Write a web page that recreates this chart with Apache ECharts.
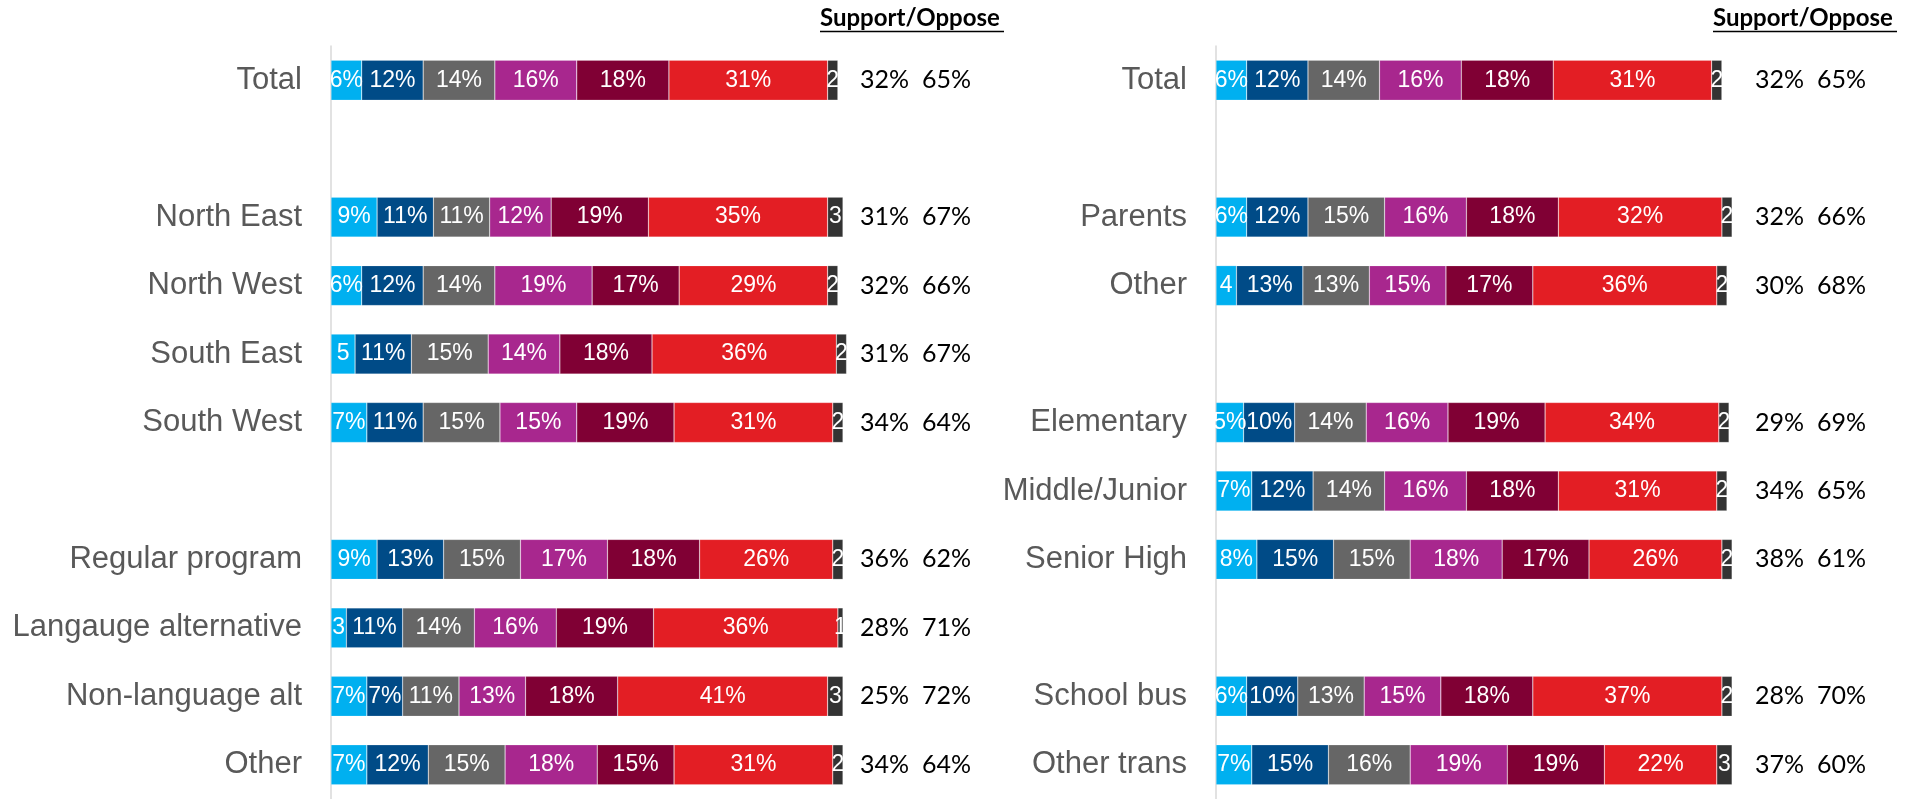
<!DOCTYPE html>
<html><head><meta charset="utf-8">
<script src="https://cdn.jsdelivr.net/npm/echarts@6/dist/echarts.min.js"></script>
<style>html,body{margin:0;padding:0;background:#fff}#c{width:1907px;height:799px}</style>
</head><body><div id="c"></div>
<script>
// ---- data ----
const seriesNames = ['Strongly support','Support','Somewhat support','Somewhat oppose','Oppose','Strongly oppose','Unsure'];
const seriesColors = ['#00B0F0','#004B87','#666666','#A8278E','#800034','#E31E24','#333333'];

const leftCategories = ['Total',' ','North East','North West','South East','South West','  ','Regular program','Langauge alternative','Non-language alt','Other'];
const leftS1 = [6,null,9,6,4.7,7,null,9,3,7,7];
const leftS2 = [12,null,11,12,11,11,null,13,11,7,12];
const leftS3 = [14,null,11,14,15,15,null,15,14,11,15];
const leftS4 = [16,null,12,19,14,15,null,17,16,13,18];
const leftS5 = [18,null,19,17,18,19,null,18,19,18,15];
const leftS6 = [31,null,35,29,36,31,null,26,36,41,31];
const leftS7 = [2,null,3,2,2,2,null,2,1,3,2];
const leftSupport = [32,null,31,32,31,34,null,36,28,25,34];
const leftOppose  = [65,null,67,66,67,64,null,62,71,72,64];

const rightCategories = ['Total',' ','Parents','Other','  ','Elementary','Middle/Junior','Senior High','   ','School bus','Other trans'];
const rightS1 = [6,null,6,4,null,5.4,7,8,null,6,7];
const rightS2 = [12,null,12,13,null,10,12,15,null,10,15];
const rightS3 = [14,null,15,13,null,14,14,15,null,13,16];
const rightS4 = [16,null,16,15,null,16,16,18,null,15,19];
const rightS5 = [18,null,18,17,null,19,18,17,null,18,19];
const rightS6 = [31,null,32,36,null,34,31,26,null,37,22];
const rightS7 = [2,null,2,2,null,2,2,2,null,2,3];
const rightSupport = [32,null,32,30,null,29,34,38,null,28,37];
const rightOppose  = [65,null,66,68,null,69,65,61,null,70,60];

const headerText = 'Support/Oppose';

// ---- chart ----
const FONT = '"Liberation Sans", Arial, sans-serif';
const NUMFONT = 'Lato, "Open Sans", sans-serif';
const leftSeriesData = [leftS1,leftS2,leftS3,leftS4,leftS5,leftS6,leftS7];
const rightSeriesData = [rightS1,rightS2,rightS3,rightS4,rightS5,rightS6,rightS7];

function segLabel(p){
  const v = p.value;
  if (v == null || v === '-') return '';
  const r = Math.round(v);
  return v >= 5 ? r + '%' : String(r);
}

function makeSeries(dataSets, axisIdx){
  return dataSets.map((d,i)=>({
    name: seriesNames[i],
    type: 'bar',
    stack: 'p'+axisIdx,
    xAxisIndex: axisIdx,
    yAxisIndex: axisIdx*2,
    barWidth: 40,
    clip: false,
    data: d,
    itemStyle: {color: seriesColors[i], borderColor: 'rgba(255,255,255,0.3)', borderWidth: 0.6},
    label: {show: true, position: 'inside', color: '#fff', fontSize: 23, fontFamily: FONT, formatter: segLabel},
    emphasis: {disabled: true},
    silent: true
  }));
}

function catAxis(gridIndex, cats){
  return {
    type: 'category', gridIndex, inverse: true, data: cats,
    axisLine: {show: true, lineStyle: {color: '#D9D9D9', width: 1.5}},
    axisTick: {show: false},
    axisLabel: {color: '#595959', fontSize: 31, fontFamily: FONT, margin: 29}
  };
}
function numAxis(gridIndex, cats, sup, opp, margin){
  return {
    type: 'category', gridIndex, inverse: true, position: 'right', data: cats,
    axisLine: {show: false}, axisTick: {show: false},
    axisLabel: {
      margin, align: 'left',
      formatter: (val, idx) => sup[idx] == null ? '' : '{a|' + sup[idx] + '%}{b|' + opp[idx] + '%}',
      rich: {
        a: {width: 62, fontSize: 25, color: '#000', fontFamily: NUMFONT},
        b: {fontSize: 25, color: '#000', fontFamily: NUMFONT}
      }
    }
  };
}

function header(x){
  return [
    {type: 'text', x: x, y: 18, silent: true,
     style: {text: headerText, font: 'bold 24px ' + NUMFONT, fill: '#000', verticalAlign: 'middle', align: 'left'}},
    {type: 'line', silent: true, shape: {x1: x, y1: 31.5, x2: x + 184, y2: 31.5}, style: {stroke: '#000', lineWidth: 1.5}}
  ];
}

const chart = echarts.init(document.getElementById('c'));
chart.setOption({
  animation: false,
  backgroundColor: '#fff',
  grid: [
    {left: 331, top: 46, width: 512, height: 756},
    {left: 1216, top: 46, width: 511, height: 756}
  ],
  xAxis: [
    {type: 'value', gridIndex: 0, min: 0, max: 100, show: false},
    {type: 'value', gridIndex: 1, min: 0, max: 100, show: false}
  ],
  yAxis: [
    catAxis(0, leftCategories),
    numAxis(0, leftCategories, leftSupport, leftOppose, 17),
    catAxis(1, rightCategories),
    numAxis(1, rightCategories, rightSupport, rightOppose, 28)
  ],
  series: [...makeSeries(leftSeriesData, 0), ...makeSeries(rightSeriesData, 1)],
  graphic: [...header(820), ...header(1713)]
});
</script></body></html>
